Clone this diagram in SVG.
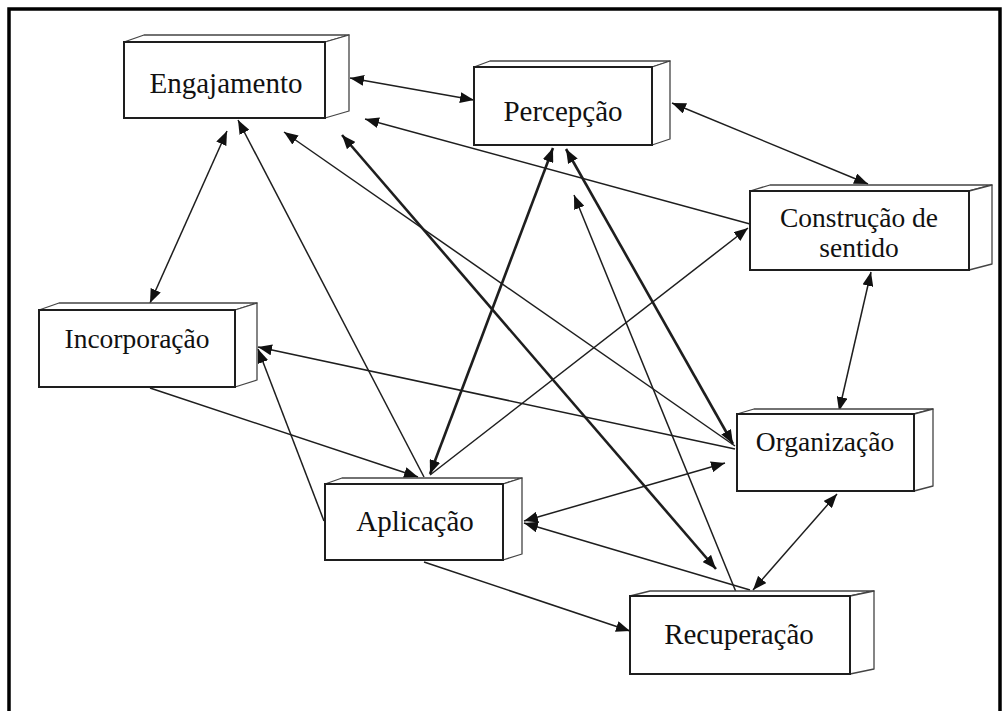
<svg xmlns="http://www.w3.org/2000/svg" width="1007" height="711" viewBox="0 0 1007 711">
<style>
.front{fill:#fff;stroke:#1e1e1e;stroke-width:2}
.side{fill:#fff;stroke:#444;stroke-width:1.3;stroke-linejoin:round}
.lbl{font-family:"Liberation Serif","Times New Roman",serif;font-size:29px;fill:#111;text-anchor:middle}
.lbl2{font-size:27.5px}
.c{stroke:#1e1e1e;stroke-width:1.5;fill:none}
.t{stroke-width:2.6}
.one{marker-end:url(#ah)}
.two{marker-end:url(#ah);marker-start:url(#ah)}
</style>
<defs>
<marker id="ah" markerUnits="userSpaceOnUse" markerWidth="15" markerHeight="11" viewBox="0 0 15 11" refX="14" refY="5.5" orient="auto-start-reverse">
<path d="M0,0 L14,5.5 L0,11 Z" fill="#111"/>
</marker>
</defs>
<rect x="9" y="9" width="991" height="720" fill="#fff" stroke="#000" stroke-width="3.5"/>
<g id="connectors">
<line class="c two" x1="350" y1="78" x2="474" y2="100"/>
<line class="c two" x1="672" y1="103" x2="868" y2="184"/>
<line class="c two" x1="871" y1="272" x2="839" y2="411"/>
<line class="c two" x1="837" y1="494" x2="753" y2="590"/>
<line class="c two" x1="227" y1="131" x2="150" y2="303"/>
<line class="c one" x1="324" y1="521" x2="258" y2="349"/>
<line class="c one" x1="735" y1="449" x2="258" y2="347"/>
<line class="c one" x1="150" y1="388" x2="418" y2="477"/>
<line class="c one" x1="424" y1="477" x2="238" y2="120"/>
<line class="c one" x1="735" y1="446" x2="284" y2="132"/>
<line class="c one" x1="750" y1="224" x2="365" y2="119"/>
<line class="c t two" x1="342" y1="135" x2="716" y2="569"/>
<line class="c t two" x1="430" y1="474" x2="553" y2="148"/>
<line class="c t two" x1="733" y1="444" x2="566" y2="149"/>
<line class="c one" x1="736" y1="592" x2="574" y2="195"/>
<line class="c one" x1="430" y1="475" x2="748" y2="228"/>
<line class="c two" x1="524" y1="521" x2="725" y2="463"/>
<line class="c one" x1="750" y1="590" x2="524" y2="523"/>
<line class="c one" x1="424" y1="562" x2="630" y2="631"/>
</g>
<g id="engajamento">
<polygon class="side" points="124,42 144,35 349,35 325,42"/>
<polygon class="side" points="325,42 349,35 349,111 325,118"/>
<rect class="front" x="124" y="42" width="201" height="76"/>
<text class="lbl" x="226" y="93">Engajamento</text>
</g>
<g id="percepcao">
<polygon class="side" points="474,67 490,61 670,61 652,67"/>
<polygon class="side" points="652,67 670,61 670,139 652,145"/>
<rect class="front" x="474" y="67" width="178" height="78"/>
<text class="lbl" x="563" y="121">Percepção</text>
</g>
<g id="construcao">
<polygon class="side" points="750,191 770,185 992,185 969,191"/>
<polygon class="side" points="969,191 992,185 992,264 969,270"/>
<rect class="front" x="750" y="191" width="219" height="79"/>
<text class="lbl lbl2" x="859" y="227">Construção de</text>
<text class="lbl lbl2" x="859" y="257">sentido</text>
</g>
<g id="incorporacao">
<polygon class="side" points="39,310 59,303 257,303 235,310"/>
<polygon class="side" points="235,310 257,303 257,380 235,387"/>
<rect class="front" x="39" y="310" width="196" height="77"/>
<text class="lbl lbl2" x="137" y="348">Incorporação</text>
</g>
<g id="organizacao">
<polygon class="side" points="737,414 754,409 933,409 914,414"/>
<polygon class="side" points="914,414 933,409 933,486 914,491"/>
<rect class="front" x="737" y="414" width="177" height="77"/>
<text class="lbl lbl2" x="825" y="451">Organização</text>
</g>
<g id="aplicacao">
<polygon class="side" points="325,484 342,478 522,478 503,484"/>
<polygon class="side" points="503,484 522,478 522,554 503,560"/>
<rect class="front" x="325" y="484" width="178" height="76"/>
<text class="lbl" x="415" y="531">Aplicação</text>
</g>
<g id="recuperacao">
<polygon class="side" points="630,596 650,591 874,591 850,596"/>
<polygon class="side" points="850,596 874,591 874,669 850,674"/>
<rect class="front" x="630" y="596" width="220" height="78"/>
<text class="lbl" x="739" y="644">Recuperação</text>
</g>
</svg>
